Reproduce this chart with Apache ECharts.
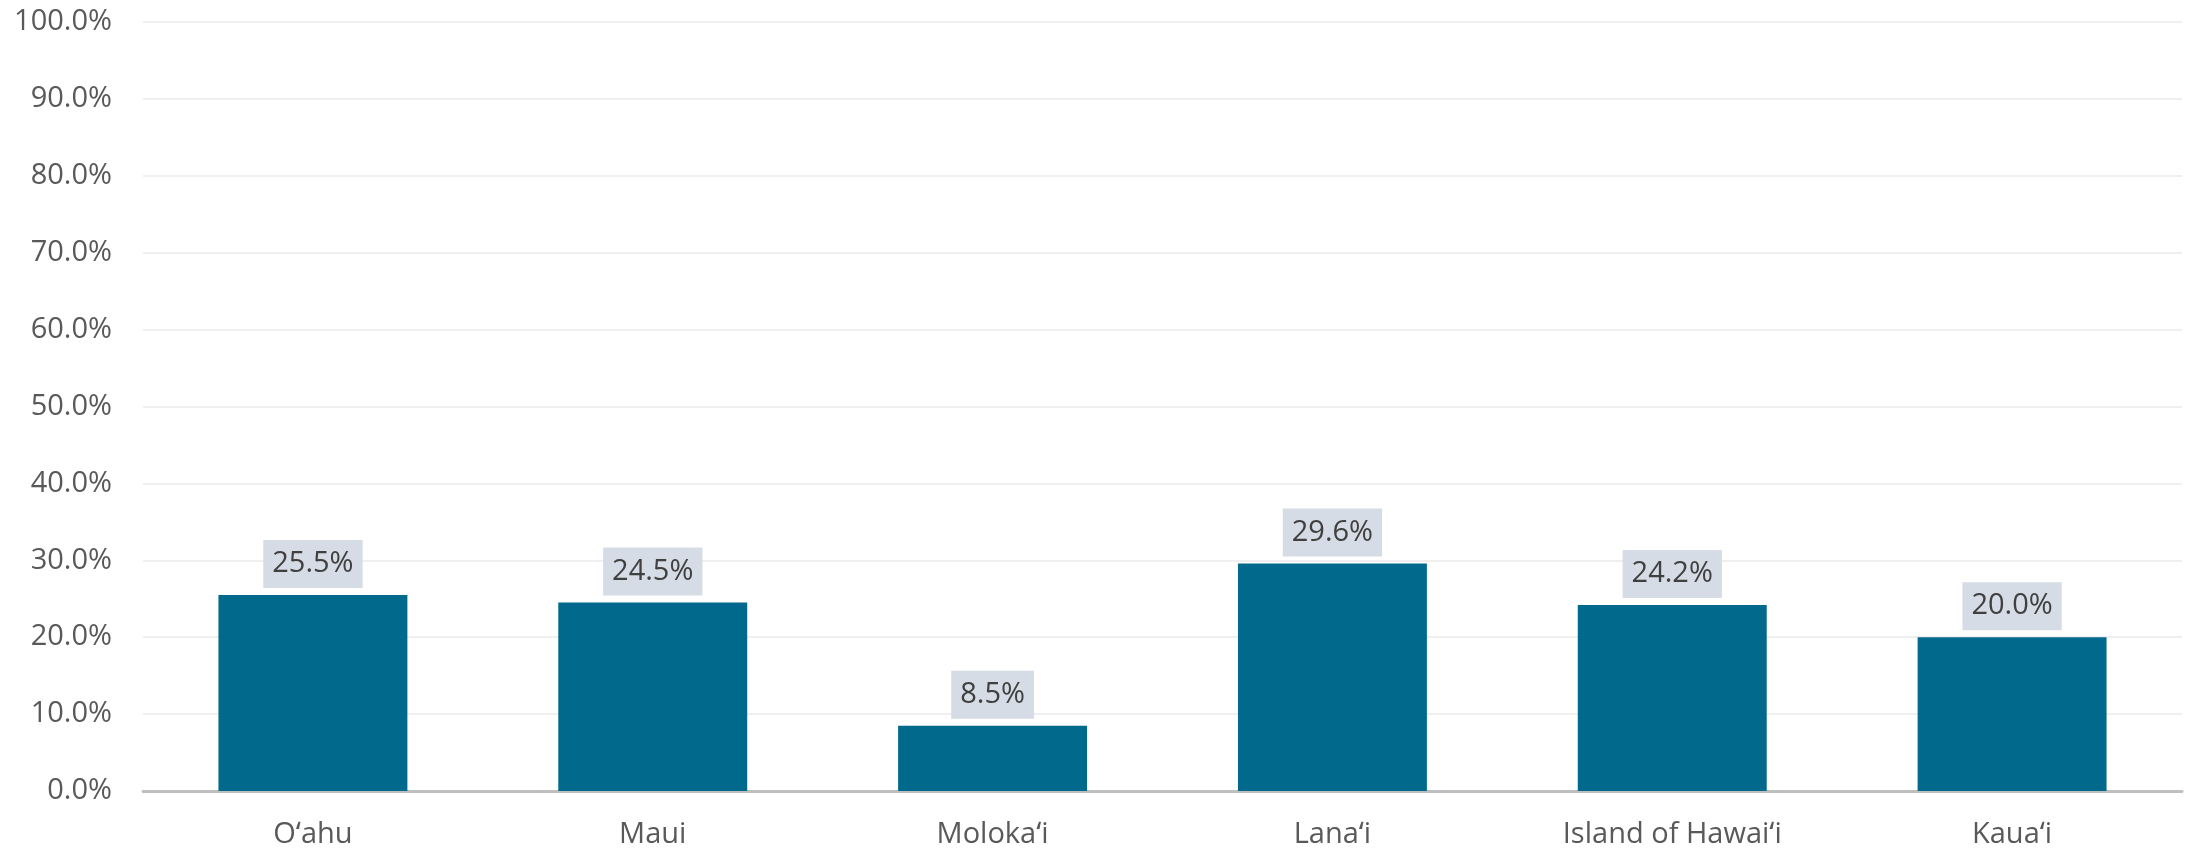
<!DOCTYPE html>
<html>
<head>
<meta charset="utf-8">
<script src="https://cdn.jsdelivr.net/npm/echarts@6/dist/echarts.min.js"></script>
<style>
  html, body { margin: 0; padding: 0; background: #fff; }
  #chart { width: 2190px; height: 849px; }
</style>
</head>
<body>
<div id="chart"></div>
<script>
// islands and share values (%)
const islands = ['Oʻahu', 'Maui', 'Molokaʻi', 'Lanaʻi', 'Island of Hawaiʻi', 'Kauaʻi'];
const shares = [25.5, 24.5, 8.5, 29.6, 24.2, 20.0];

const FONT = '"Open Sans", "Noto Sans", sans-serif';

const chart = echarts.init(document.getElementById('chart'));

chart.setOption({
  animation: false,
  grid: { left: 143, right: 8, top: 22, bottom: 56 },
  xAxis: {
    type: 'category',
    data: islands,
    axisLine: { lineStyle: { color: '#bfbfbf', width: 3 } },
    axisTick: { show: false },
    axisLabel: { color: '#595959', fontSize: 29, fontFamily: FONT, margin: 29 }
  },
  yAxis: {
    type: 'value',
    min: 0,
    max: 100,
    interval: 10,
    axisLine: { show: false },
    axisTick: { show: false },
    splitLine: { lineStyle: { color: '#efefef', width: 2 } },
    axisLabel: {
      color: '#595959',
      fontSize: 29,
      fontFamily: FONT,
      margin: 31,
      formatter: v => v.toFixed(1) + '%'
    }
  },
  series: [{
    type: 'bar',
    data: shares,
    barWidth: '55.6%',
    itemStyle: { color: '#00698c' },
    label: {
      show: true,
      position: 'top',
      distance: 7,
      color: '#404040',
      fontSize: 29,
      lineHeight: 30,
      fontFamily: FONT,
      backgroundColor: '#d6dce5',
      padding: [9, 9, 9, 9],
      formatter: p => p.value.toFixed(1) + '%'
    }
  }]
});
</script>
</body>
</html>
